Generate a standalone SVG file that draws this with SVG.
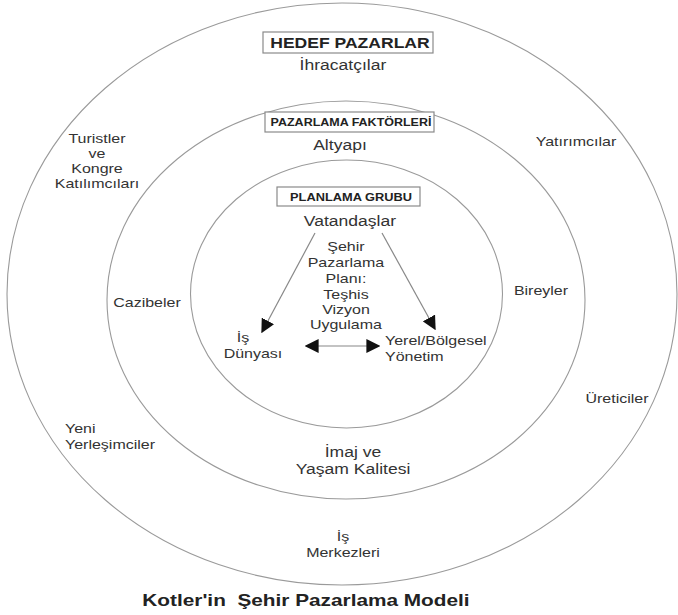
<svg xmlns="http://www.w3.org/2000/svg" width="678" height="615" viewBox="0 0 678 615">
<defs>
<marker id="tri" viewBox="0 0 10 10" refX="9" refY="5" markerWidth="14" markerHeight="14" markerUnits="userSpaceOnUse" orient="auto-start-reverse">
<path d="M0,0 L10,5 L0,10 Z" fill="#111"/>
</marker>
</defs>
<style>
.ring{fill:none;stroke:#9a9a9a;stroke-width:1.1}
.box{fill:#fff;stroke:#8a8a8a;stroke-width:1.2}
text{transform-box:fill-box;transform-origin:center}
.lbl{font-family:"Liberation Sans",Arial,sans-serif;font-size:13px;fill:#333;text-anchor:middle;transform:scaleX(1.23)}
.big{font-family:"Liberation Sans",Arial,sans-serif;font-size:15px;fill:#333;text-anchor:middle;transform:scaleX(1.17)}
.hd{font-family:"Liberation Sans",Arial,sans-serif;font-weight:bold;fill:#222;text-anchor:middle;transform:scaleX(1.22)}
.st{text-anchor:start;transform-origin:left center}
.conn{stroke:#888;stroke-width:1.2;fill:none}
</style>
<rect width="678" height="615" fill="#fff"/>
<g id="rings">
<ellipse id="outer" class="ring" cx="342" cy="294" rx="335" ry="291"/>
<ellipse id="middle" class="ring" cx="346" cy="300" rx="239" ry="199"/>
<ellipse id="inner" class="ring" cx="346.5" cy="294" rx="156" ry="134"/>
</g>
<g id="hedef">
<rect class="box" x="263" y="32" width="170" height="21"/>
<text class="hd" x="350" y="48" font-size="15" style="transform:scaleX(1.17)">HEDEF PAZARLAR</text>
<text class="big" x="343" y="70">İhracatçılar</text>
</g>
<g id="faktor">
<rect class="box" x="265" y="112" width="169" height="20"/>
<text class="hd" x="351" y="126" font-size="10" style="transform:scaleX(1.25)">PAZARLAMA FAKTÖRLERİ</text>
<text class="big" x="340" y="150">Altyapı</text>
</g>
<g id="planlama">
<rect class="box" x="277" y="187" width="143" height="19"/>
<text class="hd" x="351" y="201" font-size="10.5">PLANLAMA GRUBU</text>
<text class="big" x="350" y="226">Vatandaşlar</text>
</g>
<g id="plan">
<text class="lbl" x="346" y="251">Şehir</text>
<text class="lbl" x="346" y="267">Pazarlama</text>
<text class="lbl" x="346" y="283">Planı:</text>
<text class="lbl" x="346" y="299">Teşhis</text>
<text class="lbl" x="346" y="314">Vizyon</text>
<text class="lbl" x="346" y="329">Uygulama</text>
</g>
<g id="is-dunyasi">
<text class="lbl" x="243" y="342">İş</text>
<text class="lbl" x="253" y="358">Dünyası</text>
</g>
<g id="yerel">
<text class="lbl st" x="385" y="345">Yerel/Bölgesel</text>
<text class="lbl st" x="385" y="361">Yönetim</text>
</g>
<g id="turistler">
<text class="lbl" x="97" y="143">Turistler</text>
<text class="lbl" x="97" y="158">ve</text>
<text class="lbl" x="97" y="173">Kongre</text>
<text class="lbl" x="97" y="188">Katılımcıları</text>
</g>
<g id="cazibeler"><text class="lbl" x="147" y="307">Cazibeler</text></g>
<g id="yeni">
<text class="lbl st" x="65" y="433">Yeni</text>
<text class="lbl st" x="65" y="449">Yerleşimciler</text>
</g>
<g id="yatirimcilar"><text class="lbl" x="576" y="146">Yatırımcılar</text></g>
<g id="bireyler"><text class="lbl" x="541" y="295">Bireyler</text></g>
<g id="ureticiler"><text class="lbl" x="617" y="403">Üreticiler</text></g>
<g id="imaj">
<text class="big" x="353" y="457">İmaj ve</text>
<text class="big" x="353" y="474">Yaşam Kalitesi</text>
</g>
<g id="is-merkezleri">
<text class="lbl" x="343" y="541">İş</text>
<text class="lbl" x="343" y="557">Merkezleri</text>
</g>
<g id="connectors">
<line class="conn" x1="315" y1="233" x2="262" y2="332" marker-end="url(#tri)"/>
<line class="conn" x1="382" y1="233" x2="435" y2="329" marker-end="url(#tri)"/>
<line class="conn" x1="306" y1="346" x2="379" y2="346" marker-start="url(#tri)" marker-end="url(#tri)"/>
</g>
<text class="hd" x="306" y="606" font-size="16" xml:space="preserve" style="transform:scaleX(1.3)">Kotler'in  Şehir Pazarlama Modeli</text>
</svg>
